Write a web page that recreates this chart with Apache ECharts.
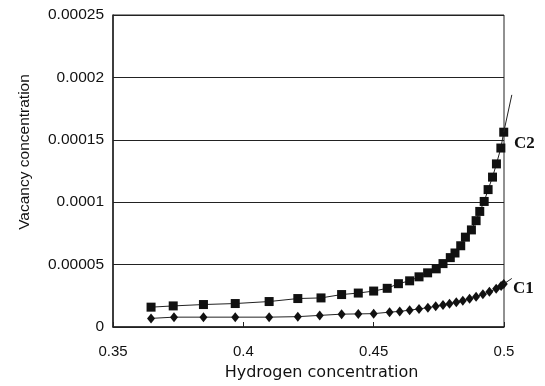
<!DOCTYPE html>
<html>
<head>
<meta charset="utf-8">
<script src="https://cdn.jsdelivr.net/npm/echarts@6/dist/echarts.min.js"></script>
<style>
html, body { margin: 0; padding: 0; background: #fff; }
#chart { width: 545px; height: 386px; }
</style>
</head>
<body>
<div id="chart"></div>
<script>
// values
var c2X = [0.3646, 0.3731, 0.3847, 0.3969, 0.4099, 0.4209, 0.4298, 0.4377, 0.4441, 0.45,
           0.4552, 0.4595, 0.4638, 0.4674, 0.4707, 0.474, 0.4766, 0.4794, 0.4812, 0.4834,
           0.4852, 0.4875, 0.4893, 0.4907, 0.4924, 0.4939, 0.4956, 0.4971, 0.4988, 0.4999];
var c2Y = [1.59, 1.69, 1.80, 1.88, 2.04, 2.28, 2.33, 2.60, 2.72, 2.88,
           3.10, 3.47, 3.70, 4.02, 4.34, 4.66, 5.08, 5.56, 5.93, 6.51,
           7.20, 7.78, 8.52, 9.26, 10.06, 11.01, 12.01, 13.07, 14.34, 15.61]; // x1e-5
var c1X = [0.3646, 0.3734, 0.3847, 0.3969, 0.4099, 0.4209, 0.4293, 0.4377, 0.4441, 0.45,
           0.4561, 0.46, 0.4638, 0.4674, 0.4708, 0.4738, 0.4766, 0.4791, 0.4817, 0.4842,
           0.4868, 0.4893, 0.4919, 0.4944, 0.497, 0.4989, 0.4999];
var c1Y = [0.69, 0.79, 0.79, 0.79, 0.79, 0.83, 0.93, 1.03, 1.05, 1.07,
           1.19, 1.25, 1.35, 1.45, 1.55, 1.66, 1.76, 1.87, 1.99, 2.10,
           2.26, 2.42, 2.62, 2.82, 3.06, 3.28, 3.45]; // x1e-5
// where the thin trend lines run out past the last point
var c2End = [0.503, 18.6];
var c1End = [0.503, 3.89];
var xTickLabels = ['0.35', '0.4', '0.45', '0.5'];
var yTickLabels = ['0', '0.00005', '0.0001', '0.00015', '0.0002', '0.00025'];

function toData(xs, ys) {
	var d = [];
	for (var i = 0; i < xs.length; i++) {
		d.push([xs[i], ys[i] * 1e-5]);
	}
	return d;
}

var chart = echarts.init(document.getElementById('chart'));
var font = 'Liberation Sans, Arial, sans-serif';
var labelFont = 'bold 17px "Liberation Serif", "Times New Roman", serif';
option = {
	backgroundColor: '#fff',
	animation: false,
	grid: {
		left: 113, right: 41, top: 15, bottom: 56,
		show: true, borderColor: '#222', borderWidth: 1
	},
	xAxis: {
		type: 'value',
		min: 0.35, max: 0.5, interval: 0.05,
		name: 'Hydrogen concentration',
		nameLocation: 'middle',
		nameGap: 38,
		nameTextStyle: { fontFamily: 'DejaVu Sans, sans-serif', fontSize: 16, color: '#111', padding: [0, 0, 0, 26] },
		axisLine: { lineStyle: { color: '#222', width: 1.5 } },
		axisTick: { inside: true, length: 5, lineStyle: { color: '#222' } },
		axisLabel: {
			fontFamily: font, fontSize: 15, color: '#111', margin: 17,
			formatter: function (v, i) { return xTickLabels[i]; }
		},
		splitLine: { show: false }
	},
	yAxis: {
		type: 'value',
		min: 0, max: 0.00025, interval: 0.00005,
		name: 'Vacancy concentration',
		nameLocation: 'middle',
		nameGap: 80,
		nameTextStyle: { fontFamily: font, fontSize: 15.5, color: '#111', padding: [0, 0, 0, 38] },
		axisLine: { show: true, lineStyle: { color: '#222', width: 1.5 } },
		axisTick: { show: false },
		axisLabel: {
			fontFamily: font, fontSize: 15.5, color: '#111', margin: 9,
			formatter: function (v, i) { return yTickLabels[i]; }
		},
		splitLine: { show: true, lineStyle: { color: '#222', width: 1 } }
	},
	series: [
		{
			name: 'C2',
			type: 'line',
			data: toData(c2X, c2Y),
			symbol: 'rect',
			symbolSize: 9,
			itemStyle: { color: '#111' },
			lineStyle: { color: '#222', width: 1 }
		},
		{
			name: 'C1',
			type: 'line',
			data: toData(c1X, c1Y),
			symbol: 'diamond',
			symbolSize: [8, 10],
			itemStyle: { color: '#111' },
			lineStyle: { color: '#222', width: 1 }
		}
	]
};
chart.setOption(option);

// the trend lines run a little past x = 0.5, outside the grid
function tailLine(xs, ys, end) {
	var n = xs.length - 1;
	var a = chart.convertToPixel({ gridIndex: 0 }, [xs[n], ys[n] * 1e-5]);
	var b = chart.convertToPixel({ gridIndex: 0 }, [end[0], end[1] * 1e-5]);
	return {
		type: 'line', z: 10,
		shape: { x1: a[0], y1: a[1], x2: b[0], y2: b[1] },
		style: { stroke: '#222', lineWidth: 1 }
	};
}
chart.setOption({
	graphic: [
		tailLine(c2X, c2Y, c2End),
		tailLine(c1X, c1Y, c1End),
		{ type: 'text', left: 514, top: 135, style: { text: 'C2', font: labelFont, fill: '#111' } },
		{ type: 'text', left: 513, top: 280, style: { text: 'C1', font: labelFont, fill: '#111' } }
	]
});
</script>
</body>
</html>
